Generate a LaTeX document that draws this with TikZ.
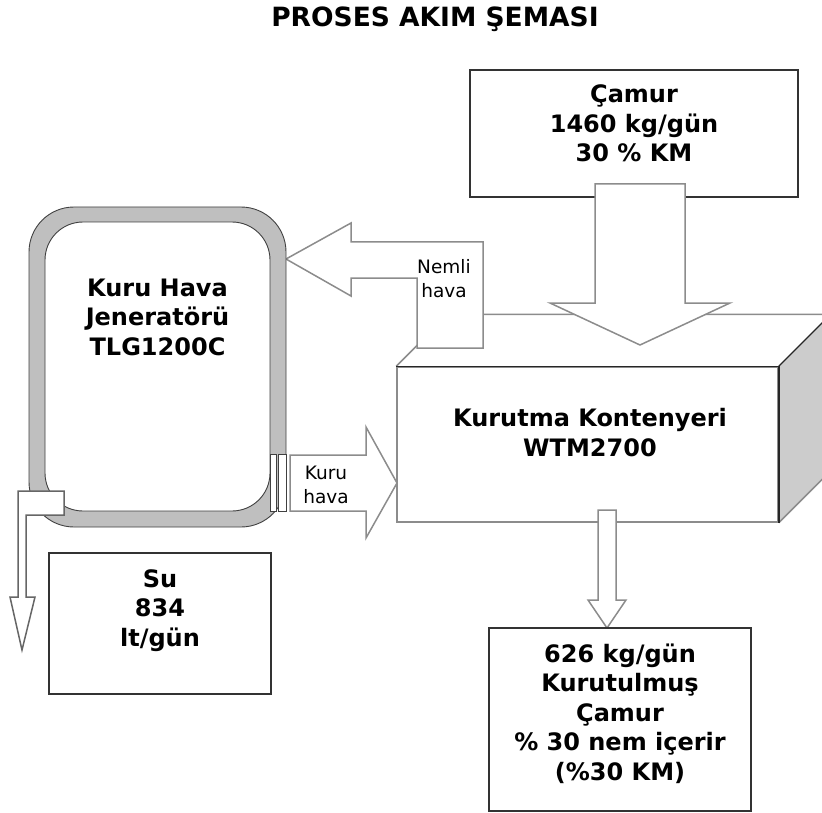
\documentclass[tikz,border=0pt]{standalone}
\usepackage{fontspec}
\setmainfont{DejaVu Sans}
\usepackage{tikz}

\tikzset{
  kutu/.style={draw=black!80, line width=1.8pt, fill=white, inner sep=0pt},
  kalin/.style={font=\bfseries\fontsize{24}{29.5}\selectfont, align=center, inner sep=0pt, anchor=base},
  ince/.style={font=\fontsize{18.5}{24}\selectfont, align=center, inner sep=0pt, anchor=base},
  blokok/.style={draw=black!45, line width=1.5pt, fill=white, line join=miter},
}

\begin{document}
\begin{tikzpicture}[x=1pt, y=-1pt]
  \useasboundingbox (0,0) rectangle (822,813);
  \clip (0,0) rectangle (822,813);

  % ========== baslik ==========
  \node[kalin, font=\bfseries\fontsize{26.5}{30}\selectfont] (baslik) at (435,27) {PROSES AKIM ŞEMASI};

  % ========== kurutma kontenyeri (kutu) ==========
  \node[draw=black!45, line width=1.5pt, fill=white, minimum width=381, minimum height=155] (kont) at (587.5,444.5) {};
  \fill[gray!40] (kont.north east) -- ++(52,-52) -- ++(0,155) -- (kont.south east) -- cycle;
  \draw[black!45, line width=1.5pt] (kont.north west) -- ++(52,-52) -- ++(420,0);
  \draw[black!45, line width=1.5pt] (kont.south east) -- ++(52,-52);
  \draw[black!85, line width=1.5pt] (kont.south east) -- (kont.north east) -- (kont.north west);
  \draw[black!85, line width=1.2pt] (kont.north east) -- ++(52,-52);
  \node[kalin] (konttxt) at (590,456) {Kurutma Kontenyeri\\WTM2700};

  % ========== camur ==========
  \node[kutu, minimum width=328, minimum height=127] (camur) at (634,133.5) {};
  \node[kalin] (camurtxt) at (634,162) {Çamur\\1460 kg/gün\\30 \% KM};
  \draw[blokok] (595,184) -- (685,184) -- (685,303) -- (730,303) -- (640,345) -- (550,303) -- (595,303) -- cycle;

  % ========== nemli hava ==========
  \draw[blokok] (483,242) -- (483,348) -- (417,348) -- (417,278) -- (351,278) -- (351,296)
    -- (286,259) -- (351,223) -- (351,242) -- cycle;
  \node[ince] (nemli) at (444,297) {Nemli\\hava};

  % ========== kuru hava jeneratoru ==========
  \fill[gray!50, even odd rule, rounded corners=45] (29,207) rectangle (286,527)
    [rounded corners=38] (45,222) rectangle (270,511);
  \draw[black!75, line width=0.9pt, rounded corners=45] (29,207) rectangle (286,527);
  \draw[black!75, line width=0.9pt, rounded corners=38] (45,222) rectangle (270,511);
  \node[kalin] (jen) at (157.5,355) {Kuru Hava\\Jeneratörü\\TLG1200C};
  \draw[black!75, fill=white, line width=0.9pt] (270,454) rectangle (276,511);
  \draw[black!75, fill=white, line width=0.9pt] (278,454) rectangle (286,511);

  % ========== kuru hava ==========
  \draw[blokok] (290,455) -- (366,455) -- (366,427) -- (397,483) -- (366,538) -- (366,511) -- (290,511) -- cycle;
  \node[ince] (kuru) at (326,503) {Kuru\\hava};

  % ========== su ==========
  \draw[blokok, draw=black!60] (18,491) -- (64,491) -- (64,515) -- (26,515) -- (26,597) -- (35,597)
    -- (22,650) -- (10,597) -- (18,597) -- cycle;
  \node[kutu, minimum width=222, minimum height=141] (su) at (160,623.5) {};
  \node[kalin] (sutxt) at (160,646) {Su\\834\\lt/gün};

  % ========== kurutulmus camur ==========
  \draw[blokok] (598,510) -- (616,510) -- (616,600) -- (626,600) -- (607,628) -- (588,600) -- (598,600) -- cycle;
  \node[kutu, minimum width=262, minimum height=183] (kuru camur) at (620,719.5) {};
  \node[kalin] (cikis) at (620,780) {626 kg/gün\\Kurutulmuş\\Çamur\\\% 30 nem içerir\\(\%30 KM)};
\end{tikzpicture}
\end{document}
